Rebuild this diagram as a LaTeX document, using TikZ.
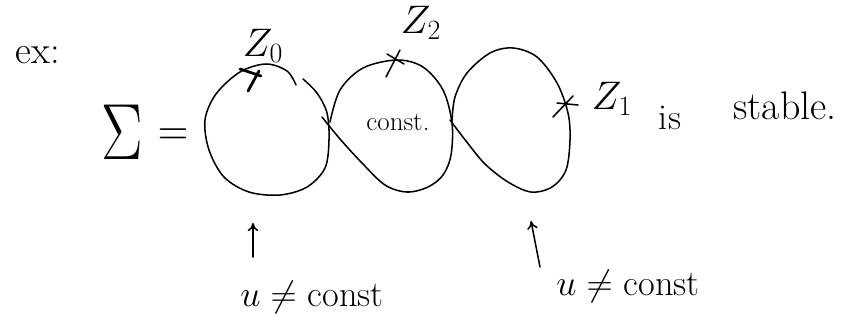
\RequirePackage{fix-cm}
\documentclass[tikz,border=0pt]{standalone}
\usetikzlibrary{arrows.meta}
\begin{document}
\begin{tikzpicture}[x=0.03cm,y=-0.03cm,
  pen/.style={line width=1.3pt,line cap=round,line join=round},
  heavy/.style={line width=2.4pt,line cap=round},
  txt/.style={inner sep=0pt,font=\fontsize{31}{35}\selectfont},
  small/.style={inner sep=0pt,font=\fontsize{23}{26}\selectfont},
  up/.style={pen,-{To[length=7pt,width=9pt]}}]
\useasboundingbox (0,0) rectangle (849,329);
% texts
\node[inner sep=0pt,font=\fontsize{33}{36}\selectfont] (ex) at (38,55) {ex:};
\node[inner sep=0pt,font=\fontsize{68}{72}\selectfont,xscale=0.78] (sig) at (122,132) {$\Sigma$};
\node[inner sep=0pt,font=\fontsize{40}{44}\selectfont,xscale=0.9] (eq) at (173,137) {$=$};
% loops
\draw[pen] plot[smooth,tension=0.55] coordinates
  {(303,79) (317,93) (327,113) (329,140) (325,168) (307,187) (280,195) (249,192) (224,177) (209,150) (205,120) (216,94) (240,72) (266,64) (287,71) (296,85)};
\draw[pen] plot[smooth,tension=0.55] coordinates
  {(330,122) (340,90) (363,68) (397,60) (423,67) (443,90) (452,123) (451,155) (443,175) (428,187) (407,192) (385,185) (362,163) (340,139) (322,117)};
\draw[pen] plot[smooth,tension=0.55] coordinates
  {(452,121) (455,97) (467,73) (490,53) (513,48) (537,57) (557,83) (568,113) (570,140) (566,170) (552,187) (531,192) (508,182) (485,164) (466,141) (450,120)};
% marks
\coordinate (c0) at (251,78);
\draw[heavy] (240,69) -- (261,76);
\draw[heavy] (259,71) -- (248,91);
\coordinate (c2) at (393,60);
\draw[pen] (387,54) -- (404,64);
\draw[pen] (400,50) -- (386,77);
\coordinate (c1) at (565,103);
\draw[pen] (553,117) -- (573,96);
\draw[pen] (557,103) -- (578,105);
% labels
\node[inner sep=0pt,font=\fontsize{34}{38}\selectfont] (z0) at (263,46) {$Z_0$};
\node[inner sep=0pt,font=\fontsize{34}{38}\selectfont] (z2) at (421,23) {$Z_2$};
\node[inner sep=0pt,font=\fontsize{34}{38}\selectfont] (z1) at (612,99) {$Z_1$};
\node[small] (cst) at (398,122) {const.};
\node[txt] (is) at (670,118) {is};
\node[inner sep=0pt,font=\fontsize{34}{38}\selectfont] (st) at (785,106) {stable.};
% arrows
\coordinate (a1) at (253,257);
\coordinate (a1t) at (253,223);
\draw[up] (a1) -- (a1t);
\coordinate (a2) at (540,267);
\coordinate (a2t) at (531,221);
\draw[up] (a2) -- (a2t);
\node[txt] (u1) at (312,297) {$u\neq$ const};
\node[txt] (u2) at (628,286) {$u\neq$ const};
\end{tikzpicture}
\end{document}
